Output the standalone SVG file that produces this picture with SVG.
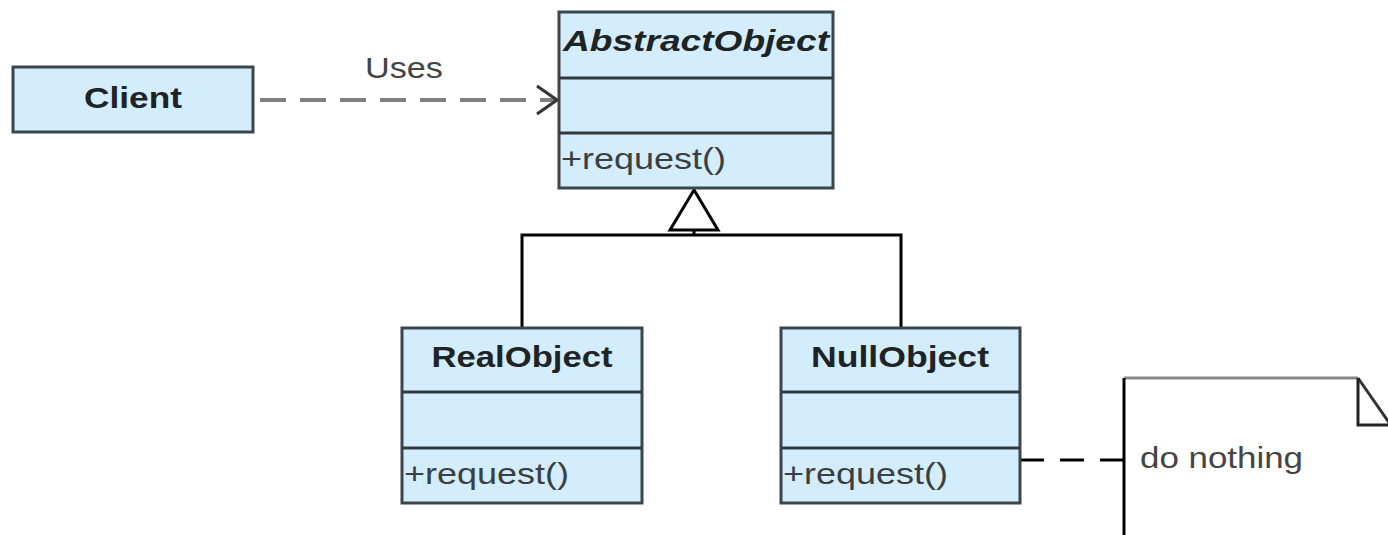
<svg xmlns="http://www.w3.org/2000/svg" width="1388" height="535" viewBox="0 0 1388 535">
<defs>
<style>
.box{fill:#D4EDFC;stroke:#3a464c;stroke-width:3}
.sep{stroke:#2e3a40;stroke-width:3}
.title{font-family:"Liberation Sans",Arial,sans-serif;font-size:30px;font-weight:bold;fill:#1e2326}
.op{font-family:"Liberation Sans",Arial,sans-serif;font-size:30px;fill:#3a3f42}
.lbl{font-family:"Liberation Sans",Arial,sans-serif;font-size:30px;fill:#444}
.inh{stroke:#000;stroke-width:3;fill:none}
</style>
<marker id="open" viewBox="0 0 24 32" refX="22" refY="16" markerWidth="24" markerHeight="32" markerUnits="userSpaceOnUse" orient="auto">
<path d="M2,2 L22,16 L2,30" fill="none" stroke="#333" stroke-width="3"/>
</marker>
</defs>
<g id="connectors">
<line x1="260" y1="100" x2="557" y2="100" stroke="#808080" stroke-width="4" stroke-dasharray="26,14" marker-end="url(#open)"/>
<text class="lbl" x="404" y="78" text-anchor="middle" textLength="78" lengthAdjust="spacingAndGlyphs">Uses</text>
<polyline class="inh" points="522,327 522,235 901,235 901,327"/>
<line x1="694" y1="230" x2="694" y2="235" stroke="#000" stroke-width="3"/>
<polygon points="694,190 670,230 718,230" fill="#fff" stroke="#000" stroke-width="3"/>
<line x1="1020" y1="460" x2="1123" y2="460" stroke="#000" stroke-width="3" stroke-dasharray="24,16"/>
</g>
<g id="client">
<rect class="box" x="13" y="67" width="240" height="65"/>
<text class="title" x="133" y="108" text-anchor="middle" textLength="98" lengthAdjust="spacingAndGlyphs">Client</text>
</g>
<g id="abstractobject">
<rect class="box" x="559" y="12" width="274" height="176"/>
<line class="sep" x1="559" y1="78" x2="833" y2="78"/>
<line class="sep" x1="559" y1="133" x2="833" y2="133"/>
<text class="title" x="696" y="51" text-anchor="middle" font-style="italic" textLength="266" lengthAdjust="spacingAndGlyphs">AbstractObject</text>
<text class="op" x="561" y="169" textLength="165" lengthAdjust="spacingAndGlyphs">+request()</text>
</g>
<g id="realobject">
<rect class="box" x="402" y="328" width="240" height="175"/>
<line class="sep" x1="402" y1="392" x2="642" y2="392"/>
<line class="sep" x1="402" y1="448" x2="642" y2="448"/>
<text class="title" x="522" y="367" text-anchor="middle" textLength="181" lengthAdjust="spacingAndGlyphs">RealObject</text>
<text class="op" x="404" y="484" textLength="165" lengthAdjust="spacingAndGlyphs">+request()</text>
</g>
<g id="nullobject">
<rect class="box" x="781" y="328" width="239" height="175"/>
<line class="sep" x1="781" y1="392" x2="1020" y2="392"/>
<line class="sep" x1="781" y1="448" x2="1020" y2="448"/>
<text class="title" x="900" y="367" text-anchor="middle" textLength="178" lengthAdjust="spacingAndGlyphs">NullObject</text>
<text class="op" x="783" y="484" textLength="165" lengthAdjust="spacingAndGlyphs">+request()</text>
</g>
<g id="note">
<path d="M1124,535 L1124,378 L1358,378 L1392,428 L1392,535 Z" fill="#fff" stroke="none"/>
<line x1="1124" y1="378" x2="1358" y2="378" stroke="#888" stroke-width="3"/>
<line x1="1124" y1="378" x2="1124" y2="535" stroke="#000" stroke-width="3"/>
<path d="M1358,378 L1390,424" fill="none" stroke="#333" stroke-width="3"/>
<path d="M1358,378 L1358,425 L1390,425" fill="none" stroke="#222" stroke-width="3"/>
<text class="lbl" x="1140" y="468" textLength="163" lengthAdjust="spacingAndGlyphs">do nothing</text>
</g>
</svg>
